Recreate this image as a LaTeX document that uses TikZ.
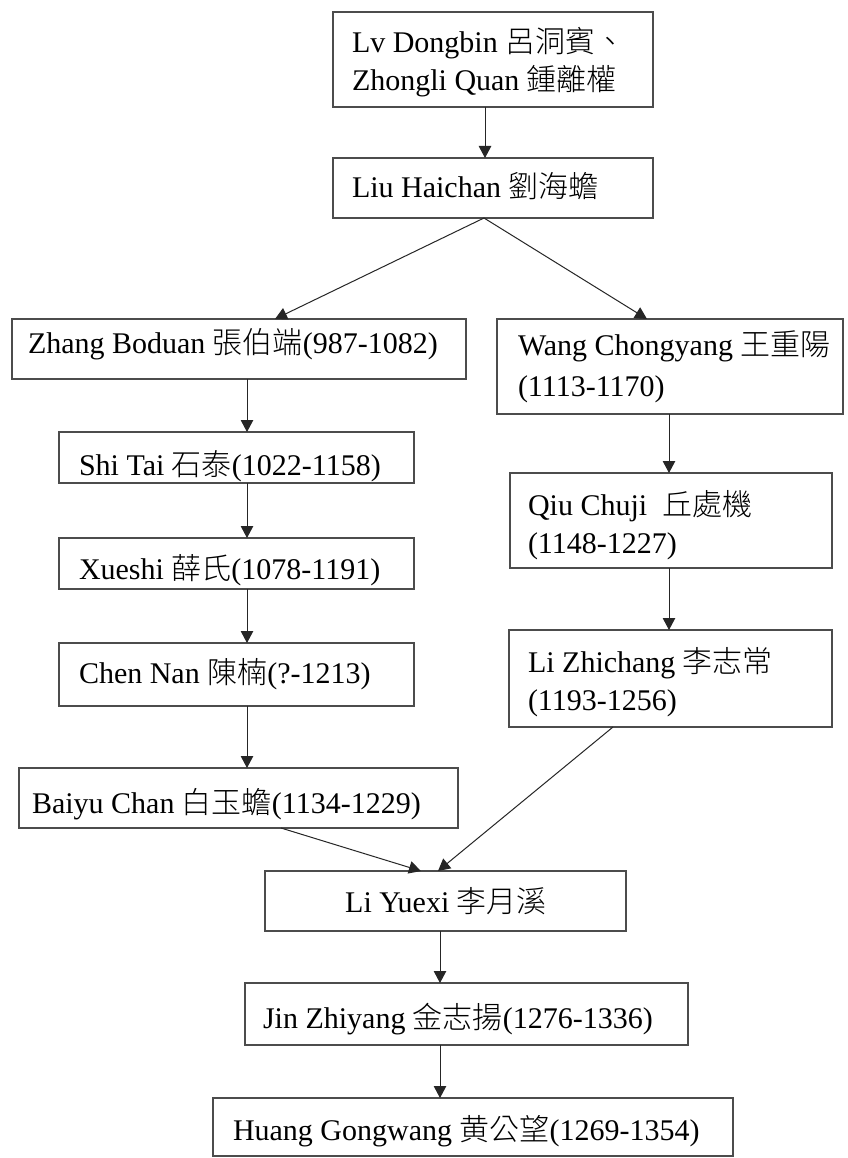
\documentclass[tikz,border=0pt]{standalone}
\usepackage{fontspec}
\setmainfont{Liberation Serif}
\newfontfamily\cjk[UprightFont={* Light}]{Noto Sans CJK TC}
\usetikzlibrary{arrows.meta}
\begin{document}
\begin{tikzpicture}[x=1pt, y=-1pt,
  box/.style={draw=black!70, line width=1.2pt, inner sep=0pt, outer sep=0pt, anchor=north west},
  txt/.style={inner sep=0pt, outer sep=0pt, anchor=base west, font=\fontsize{30}{36}\selectfont},
  arr/.style={draw=black!85, line width=1pt, -{Triangle[length=12pt,width=12.5pt]}}]
\fill[white] (0,0) rectangle (847,1158);
\useasboundingbox (0,0) rectangle (847,1158);

% boxes: left/top corner, width, height
\node[box, minimum width=320pt, minimum height=95pt] (top) at (333,12) {};
\node[box, minimum width=320pt, minimum height=60pt] (liu) at (333,158) {};
\node[box, minimum width=454pt, minimum height=60pt] (zhang) at (12,319) {};
\node[box, minimum width=346pt, minimum height=95pt] (wang) at (497,319) {};
\node[box, minimum width=355pt, minimum height=51pt] (shi) at (59,432) {};
\node[box, minimum width=355pt, minimum height=51pt] (xueshi) at (59,538) {};
\node[box, minimum width=355pt, minimum height=63pt] (chen) at (59,643) {};
\node[box, minimum width=439pt, minimum height=60pt] (baiyu) at (19,768) {};
\node[box, minimum width=322pt, minimum height=95pt] (qiu) at (510,473) {};
\node[box, minimum width=323pt, minimum height=97pt] (zhichang) at (509,630) {};
\node[box, minimum width=361pt, minimum height=60pt] (yuexi) at (265,871) {};
\node[box, minimum width=443pt, minimum height=62pt] (jin) at (245,983) {};
\node[box, minimum width=520pt, minimum height=58pt] (huang) at (213,1098) {};

% labels
\node[txt] (topA) at (352,53) {Lv Dongbin {\cjk 呂洞賓、}};
\node[txt] (topB) at (352,91) {Zhongli Quan {\cjk 鍾離權}};
\node[txt] (liuT) at (352,198) {Liu Haichan {\cjk 劉海蟾}};
\node[txt] (zhangT) at (28,353) {Zhang Boduan {\cjk 張伯端}(987-1082)};
\node[txt] (wangA) at (518,355) {Wang Chongyang {\cjk 王重陽}};
\node[txt] (wangB) at (518,396) {(1113-1170)};
\node[txt] (shiT) at (79,475) {Shi Tai {\cjk 石泰}(1022-1158)};
\node[txt] (xueshiT) at (79,579) {Xueshi {\cjk 薛氏}(1078-1191)};
\node[txt] (chenT) at (79,683) {Chen Nan {\cjk 陳楠}(?-1213)};
\node[txt] (baiyuT) at (32,813) {Baiyu Chan {\cjk 白玉蟾}(1134-1229)};
\node[txt] (qiuA) at (528,515) {Qiu Chuji\ \ {\cjk 丘處機}};
\node[txt] (qiuB) at (528,553) {(1148-1227)};
\node[txt] (zhichangA) at (528,672) {Li Zhichang {\cjk 李志常}};
\node[txt] (zhichangB) at (528,710) {(1193-1256)};
\node[txt, anchor=base] (yuexiT) at (446,912) {Li Yuexi {\cjk 李月溪}};
\node[txt] (jinT) at (263,1028) {Jin Zhiyang {\cjk 金志揚}(1276-1336)};
\node[txt] (huangT) at (233,1140) {Huang Gongwang {\cjk 黄公望}(1269-1354)};

% vertical guide positions for the straight arrows
\coordinate (xa) at (485,0);
\coordinate (xl) at (247,0);
\coordinate (xr) at (669,0);
\coordinate (xm) at (440,0);

% connectors
\draw[arr] (top.south -| xa) -- (liu.north -| xa);
\draw[arr] ([xshift=-9pt]liu.south) -- ([xshift=263pt]zhang.north west);
\draw[arr] ([xshift=-9pt]liu.south) -- ([xshift=150pt]wang.north west);
\draw[arr] (zhang.south -| xl) -- (shi.north -| xl);
\draw[arr] (shi.south -| xl) -- (xueshi.north -| xl);
\draw[arr] (xueshi.south -| xl) -- (chen.north -| xl);
\draw[arr] (chen.south -| xl) -- (baiyu.north -| xl);
\draw[arr] (wang.south -| xr) -- (qiu.north -| xr);
\draw[arr] (qiu.south -| xr) -- (zhichang.north -| xr);
\draw[arr] ([xshift=262pt]baiyu.south west) -- ([xshift=156pt]yuexi.north west);
\draw[arr] ([xshift=104pt]zhichang.south west) -- ([xshift=173pt]yuexi.north west);
\draw[arr] (yuexi.south -| xm) -- (jin.north -| xm);
\draw[arr] (jin.south -| xm) -- (huang.north -| xm);
\end{tikzpicture}
\end{document}
